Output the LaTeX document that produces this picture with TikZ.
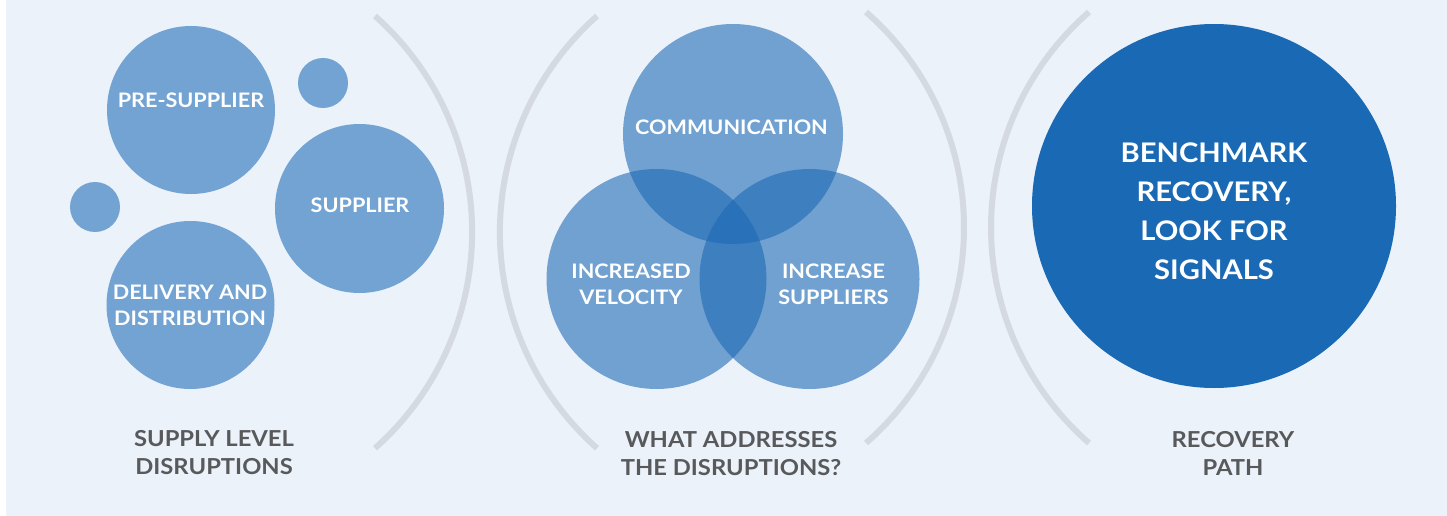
\documentclass[tikz,border=0pt]{standalone}
\usepackage{fontspec}
\setmainfont[FakeStretch=1.08]{Lato}
\definecolor{bgblue}{HTML}{EBF2FA}
\definecolor{lightc}{HTML}{72A3D3}
\definecolor{darkc}{HTML}{1A67B3}
\definecolor{bigc}{HTML}{1A69B4}
\definecolor{arcgrey}{HTML}{D5DAE2}
\definecolor{labgrey}{HTML}{58595B}
\begin{document}
\begin{tikzpicture}[x=1pt,y=-1pt,
  lightcirc/.style={circle,fill=lightc,inner sep=0pt,draw=none},
  venncirc/.style={circle,fill=darkc,fill opacity=0.58,inner sep=0pt,draw=none},
  bigcirc/.style={circle,fill=bigc,inner sep=0pt,draw=none},
  intxt/.style={text=white,font=\bfseries\fontsize{20}{26}\selectfont,align=center,inner sep=0pt},
  bigtxt/.style={text=white,font=\bfseries\fontsize{27}{39}\selectfont,align=center,inner sep=0pt},
  labtxt/.style={text=labgrey,font=\bfseries\fontsize{22}{28}\selectfont,align=center,inner sep=0pt},
  sep/.style={draw=arcgrey,line width=6pt}]
\useasboundingbox (0,0) rectangle (1447,516);
\fill[white] (0,0) rectangle (1447,516);
\fill[bgblue] (6,0) rectangle (1447,516);
% separators
\draw[sep] (375,16) arc[start angle=-48.4,end angle=48.4,radius=289];
\draw[sep] (597,16) arc[start angle=228.4,end angle=131.6,radius=289];
\draw[sep] (866,12) arc[start angle=-48.9,end angle=48.9,radius=286];
\draw[sep] (1089,12) arc[start angle=228.9,end angle=131.1,radius=286];
% left panel
\node[lightcirc,minimum size=168pt] (pre) at (191,110) {};
\node[lightcirc,minimum size=50pt] (dot1) at (323,83) {};
\node[lightcirc,minimum size=50pt] (dot2) at (95,207) {};
\node[lightcirc,minimum size=169pt] (sup) at (359.5,208.5) {};
\node[lightcirc,minimum size=168pt] (del) at (190.5,305) {};
\node[intxt] (tpre) at (191,100.5) {PRE-SUPPLIER};
\node[intxt] (tsup) at (360,205) {SUPPLIER};
\node[intxt] (tdel) at (190,305) {DELIVERY AND\\DISTRIBUTION};
% venn
\node[venncirc,minimum size=220pt] (comm) at (733,134) {};
\node[venncirc,minimum size=220pt] (vel) at (656.5,279) {};
\node[venncirc,minimum size=220pt] (incs) at (809.5,279) {};
\node[intxt] (tcomm) at (731.5,127.5) {COMMUNICATION};
\node[intxt] (tvel) at (631,284.5) {INCREASED\\VELOCITY};
\node[intxt] (tincs) at (833.5,284.5) {INCREASE\\SUPPLIERS};
% big
\node[bigcirc,minimum size=364pt] (bench) at (1214,206) {};
\node[bigtxt] (tbench) at (1214,211) {BENCHMARK\\RECOVERY,\\LOOK FOR\\SIGNALS};
% labels
\node[labtxt] (l1) at (214,453) {SUPPLY LEVEL\\DISRUPTIONS};
\node[labtxt] (l2) at (731,453.5) {WHAT ADDRESSES\\THE DISRUPTIONS?};
\node[labtxt] (l3) at (1233,453) {RECOVERY\\PATH};
\end{tikzpicture}
\end{document}
